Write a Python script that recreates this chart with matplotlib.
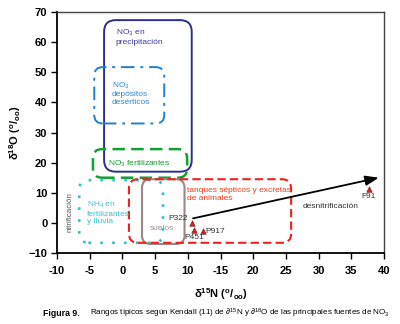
import matplotlib
matplotlib.use("Agg")
import matplotlib.pyplot as plt
from matplotlib.patches import FancyBboxPatch

plt.rcParams['font.family'] = ['Liberation Sans', 'DejaVu Sans']
plt.rcParams['mathtext.fontset'] = 'custom'
plt.rcParams['mathtext.rm'] = 'Liberation Sans'
plt.rcParams['mathtext.it'] = 'Liberation Sans:italic'
plt.rcParams['mathtext.bf'] = 'Liberation Sans:bold'

# Source ranges (delta15N min, max, delta18O min, max)
source_names = ["precip", "desert", "fert", "nh4", "suelos", "tanques"]
d15n_min = [-2.8, -4.3, -4.5, -6.6, 3.0, 1.0]
d15n_max = [10.6, 6.4, 9.9, 6.2, 9.5, 25.8]
d18o_min = [17.0, 33.0, 15.0, -6.6, -7.0, -6.6]
d18o_max = [67.3, 51.7, 24.5, 14.2, 14.5, 14.5]

# Sample points
pt_names = ["P322", "P451", "P917", "F91"]
pt_d15n = [10.6, 11.0, 12.3, 37.7]
pt_d18o = [0.0, -2.2, -2.7, 11.3]

# Denitrification arrow
arrow_start = (10.8, 1.5)
arrow_end = (39.2, 15.0)

xticks = [-10, -5, 0, 5, 10, 15, 20, 25, 30, 35, 40]
xticklabels = ["-10", "-5", "0", "5", "10", "-15", "20", "25", "30", "35", "40"]
yticks = [-10, 0, 10, 20, 30, 40, 50, 60, 70]

fig = plt.figure(figsize=(4.0, 3.24), dpi=100)
ax = fig.add_axes([0.1425, 0.219, 0.8175, 0.744])
ax.set_xlim(-10, 40)
ax.set_ylim(-10, 70)

aspect = (327 / 50) / (241 / 80)

styles = {
    "precip": dict(ec="#2b2f91", ls="-", lw=1.4, r=1.8),
    "desert": dict(ec="#1f7fd0", ls=(0, (7, 3, 1.5, 3)), lw=1.4, r=1.3),
    "fert": dict(ec="#11a033", ls=(0, (5, 2.5)), lw=1.8, r=1.4),
    "nh4": dict(ec="#2cc0d0", ls=(0, (1, 3.5)), lw=1.9, r=1.4),
    "suelos": dict(ec="#9a8882", ls="-", lw=1.5, r=1.3),
    "tanques": dict(ec="#f02020", ls=(0, (4, 2)), lw=1.5, r=1.4),
}
for name, x0, x1, y0, y1 in zip(source_names, d15n_min, d15n_max, d18o_min, d18o_max):
    s = styles[name]
    p = FancyBboxPatch((x0, y0), x1 - x0, y1 - y0,
                       boxstyle=f"round,pad=0,rounding_size={s['r']}",
                       mutation_aspect=aspect, fc="none", ec=s["ec"],
                       ls=s["ls"], lw=s["lw"], zorder=2)
    ax.add_patch(p)

ax.annotate("", xy=arrow_end, xytext=arrow_start,
            arrowprops=dict(arrowstyle="-|>,head_length=0.8,head_width=0.3",
                            color="black", lw=1.3, shrinkA=0, shrinkB=0), zorder=4)

ax.scatter(pt_d15n, pt_d18o, marker="^", s=16, c="#d02020", edgecolors="#602020",
           linewidths=0.4, zorder=5)

fs = 6.0
ax.text(pt_d15n[0] - 0.6, pt_d18o[0] + 1.3, pt_names[0], fontsize=fs, color="#333333", ha="right", va="center")
ax.text(pt_d15n[1] - 1.6, pt_d18o[1] - 2.8, pt_names[1], fontsize=fs, color="#333333", ha="left", va="center")
ax.text(pt_d15n[2] + 0.4, pt_d18o[2], pt_names[2], fontsize=fs, color="#333333", ha="left", va="center")
ax.text(pt_d15n[3], pt_d18o[3] - 2.5, pt_names[3], fontsize=fs, color="#333333", ha="center", va="center")

ax.text(-1.0, 61.8, "NO$_3$ en\nprecipitación", fontsize=fs, color="#3a3a9a", ha="left", va="center", linespacing=1.1)
ax.text(-1.6, 43.0, "NO$_3$\ndepósitos\ndesérticos", fontsize=fs, color="#2a85d0", ha="left", va="center", linespacing=1.1)
ax.text(-2.2, 19.5, "NO$_3$ fertilizantes", fontsize=fs, color="#11a033", ha="left", va="center")
ax.text(-5.4, 3.4, "NH$_4$ en\nfertilizantes\ny lluvia", fontsize=fs, color="#3cc0d0", ha="left", va="center", linespacing=1.1)
ax.text(-8.0, 3.5, "nitrificación", fontsize=5.8, color="#555555", rotation=90, ha="center", va="center")
ax.text(4.2, -2.0, "suelos", fontsize=fs, color="#a09090", ha="left", va="center")
ax.text(9.9, 9.5, "tanques sépticos y excretas\nde animales", fontsize=fs, color="#f03a1a", ha="left", va="center", linespacing=1.1)
ax.text(27.5, 5.5, "desnitrificación", fontsize=fs, color="#333333", ha="left", va="center")

ax.set_xticks(xticks)
ax.set_xticklabels(xticklabels)
ax.set_yticks(yticks)
ax.tick_params(axis="both", direction="out", length=4, width=1.0, labelsize=8, pad=3)
ax.tick_params(axis="x", pad=5)
for lab in ax.get_xticklabels() + ax.get_yticklabels():
    lab.set_fontweight("bold")
for side in ["left", "bottom"]:
    ax.spines[side].set_linewidth(1.3)
for side in ["top", "right"]:
    ax.spines[side].set_linewidth(1.0)
    ax.spines[side].set_color("#444444")

ax.set_xlabel(r"δ$^{\mathbf{15}}$N ($^{\mathbf{o}}$/$_{\mathbf{oo}}$)", fontsize=8, fontweight="bold", labelpad=8)
ax.set_ylabel(r"δ$^{\mathbf{18}}$O ($^{\mathbf{o}}$/$_{\mathbf{oo}}$)", fontsize=8, fontweight="bold", labelpad=4)

fig.text(0.108, 0.033, "Figura 9.", fontsize=6.3, fontweight="bold", ha="left", va="center")
fig.text(0.225, 0.033, "Rangos típicos según Kendall (11) de ∂$^{15}$N y ∂$^{18}$O de las principales fuentes de NO$_3$",
         fontsize=5.8, ha="left", va="center")

fig.savefig("out.png", dpi=100)
